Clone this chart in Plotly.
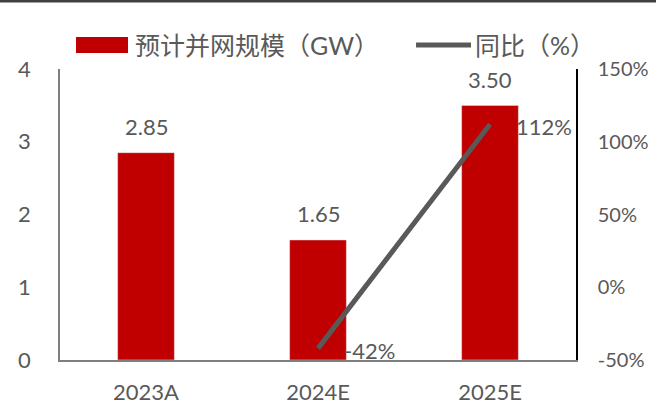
import plotly.graph_objects as go

# data
years = ["2023A", "2024E", "2025E"]
capacity_gw = [2.85, 1.65, 3.50]
yoy_years = ["2024E", "2025E"]
yoy_pct = [-42, 112]
pct_ticks = [-50, 0, 50, 100, 150]

RED = "#C00000"
INK = "#595959"
LINE = "#595959"
FONT = "Lato, 'Noto Sans CJK SC', sans-serif"
FS = 22
LEG_FS = 25

fig = go.Figure()
fig.add_trace(
    go.Bar(
        x=years,
        y=capacity_gw,
        marker_color=RED,
        width=0.33,
        name="预计并网规模（GW）",
        showlegend=False,
    )
)
fig.add_trace(
    go.Scatter(
        x=yoy_years,
        y=yoy_pct,
        yaxis="y2",
        mode="lines",
        line={"color": LINE, "width": 5},
        name="同比（%）",
        showlegend=False,
    )
)

# value labels, anchored on the data through the axes
for x, v in zip(years, capacity_gw):
    fig.add_annotation(
        x=x, y=v, text=f"{v:.2f}", showarrow=False, yshift=26,
        font={"size": FS, "color": INK},
    )
for x, v in zip(yoy_years, yoy_pct):
    fig.add_annotation(
        x=x, y=v, yref="y2", text=f"{v}%", showarrow=False,
        xanchor="left", xshift=24, yshift=-2,
        font={"size": FS, "color": INK},
    )

# legend drawn by hand to get the wide swatches
fig.add_shape(type="rect", xref="paper", yref="paper", x0=0.031, x1=0.1318,
              y0=1.055, y1=1.110, fillcolor=RED, line_width=0)
fig.add_annotation(xref="paper", yref="paper", x=0.1415, y=1.0825,
                   xanchor="left", yanchor="middle", showarrow=False,
                   text="预计并网规模（GW）", font={"size": LEG_FS, "color": INK})
fig.add_shape(type="line", xref="paper", yref="paper", x0=0.69, x1=0.7965,
              y0=1.0825, y1=1.0825, line={"color": LINE, "width": 5})
fig.add_annotation(xref="paper", yref="paper", x=0.80, y=1.0825,
                   xanchor="left", yanchor="middle", showarrow=False,
                   text="同比（%）", font={"size": LEG_FS, "color": INK})

# dark rule along the top edge
fig.add_shape(type="line", xref="paper", yref="paper", x0=-0.2, x1=1.2,
              y0=1.234, y1=1.234, line={"color": "#404040", "width": 3})

fig.update_layout(
    width=656,
    height=405,
    margin={"l": 60, "r": 80, "t": 69, "b": 45, "autoexpand": False},
    paper_bgcolor="white",
    plot_bgcolor="white",
    font={"family": FONT, "size": FS, "color": INK},
    xaxis={
        "showline": True,
        "linecolor": "#7F7F7F",
        "linewidth": 1.5,
        "showgrid": False,
        "ticks": "",
        "ticklabelstandoff": 12,
        "automargin": False,
    },
    yaxis={
        "range": [0, 4],
        "dtick": 1,
        "showline": True,
        "linecolor": "#7F7F7F",
        "linewidth": 1.5,
        "showgrid": False,
        "zeroline": False,
        "ticklabelstandoff": 23,
        "automargin": False,
    },
    yaxis2={
        "overlaying": "y",
        "side": "right",
        "range": [-50, 150],
        "tickvals": pct_ticks,
        "ticktext": [f"{t}%" for t in pct_ticks],
        "tickfont": {"size": 20},
        "showline": True,
        "linecolor": "#000000",
        "linewidth": 1.5,
        "showgrid": False,
        "zeroline": False,
        "ticklabelstandoff": 16,
        "automargin": False,
    },
)

fig.write_html(
    "out.html",
    config={"displayModeBar": False},
    post_script="document.body.style.margin='0';document.body.style.overflow='hidden';",
)
